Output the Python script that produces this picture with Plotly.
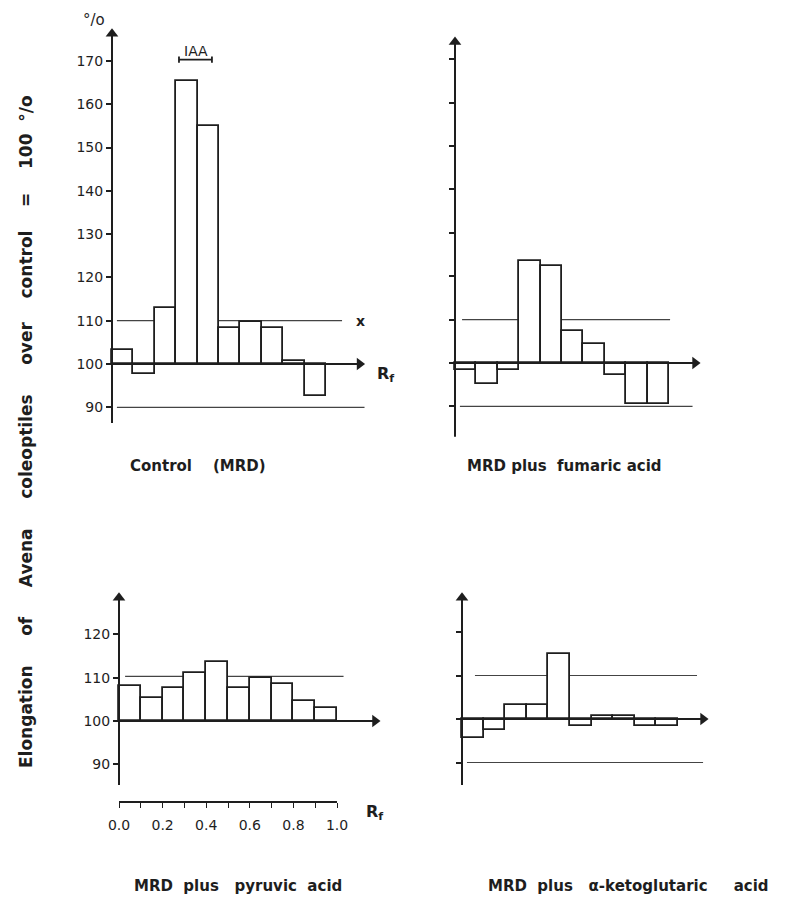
import plotly.graph_objects as go

# window is 798x907; the page body has an 8px margin, so the figure is sized to fit inside it
WIN_W, WIN_H = 798, 907
OFF = 8
W, H = WIN_W - 2 * OFF, WIN_H - 2 * OFF

# ---------------- data ----------------
rf_centers = [0.05, 0.15, 0.25, 0.35, 0.45, 0.55, 0.65, 0.75, 0.85, 0.95]
bin_width = 0.1
control = [103.2, 97.8, 112.9, 165.3, 155.0, 108.2, 109.6, 108.2, 100.6, 92.7]
fumaric = [98.3, 95.2, 98.3, 123.4, 122.4, 107.3, 104.4, 97.3, 90.5, 90.5]
pyruvic = [108.0, 105.4, 107.7, 111.2, 113.7, 107.6, 110.0, 108.5, 104.6, 103.1]
ketoglutaric = [95.6, 97.4, 103.3, 103.3, 115.0, 98.3, 100.8, 100.8, 98.3, 98.3]
baseline = 100
upper_ref = 110
lower_ref = 90
NB = "\u00a0"
titles = [f"Control{NB*4}(MRD)", f"MRD{NB*1}plus{NB*2}fumaric{NB*1}acid",
          f"MRD{NB*2}plus{NB*3}pyruvic{NB*2}acid", f"MRD{NB*2}plus{NB*3}\u03b1-ketoglutaric{NB*5}acid"]
ytitle = (f"Elongation{NB*5}of{NB*5}Avena{NB*5}coleoptiles{NB*5}over{NB*4}"
          f"control{NB*4}={NB*4}100{NB*2}\u00b0/o")
tl_ticks = [90, 100, 110, 120, 130, 140, 150, 160, 170]
bl_ticks = [90, 100, 110, 120]
rf_major = [0.0, 0.2, 0.4, 0.6, 0.8, 1.0]
rf_labels = ["0.0", "0.2", "0.4", "0.6", "0.8", "1.0"]

FONT = "DejaVu Sans"
INK = "#1e1e1e"


def xp(px):
    return (px - OFF) / W


def yp(py):
    return 1 - (py - OFF) / H


# panel pixel calibration (window pixels)
panels = [
    dict(data=control, rf0=112, ppr=214, y100=364, ppu=4.33, dx=(100, 425), dy=(15, 440),
         ytip=177.4, ybot=86.4, xtip=1.18, ticks=tl_ticks, labels=True,
         lines=[(upper_ref, 0.023, 1.075), (lower_ref, 0.023, 1.18)]),
    dict(data=fumaric, rf0=455, ppr=214, y100=363, ppu=4.34, dx=(440, 740), dy=(15, 445),
         ytip=175.1, ybot=83.0, xtip=1.145, ticks=tl_ticks, labels=False,
         lines=[(upper_ref, 0.033, 1.005), (lower_ref, 0.023, 1.11)]),
    dict(data=pyruvic, rf0=119, ppr=218, y100=721, ppu=4.33, dx=(100, 425), dy=(575, 795),
         ytip=129.6, ybot=85.2, xtip=1.197, ticks=bl_ticks, labels=True,
         lines=[(upper_ref + 0.3, 0.028, 1.03)]),
    dict(data=ketoglutaric, rf0=462, ppr=216, y100=719, ppu=4.35, dx=(440, 740), dy=(575, 795),
         ytip=129.0, ybot=84.8, xtip=1.139, ticks=bl_ticks, labels=False,
         lines=[(upper_ref, 0.06, 1.088), (lower_ref, 0.023, 1.116)]),
]

fig = go.Figure()
annotations = []
shapes = []
layout = {}
HEAD = 11  # arrowhead marker size (px)

for i, p in enumerate(panels, start=1):
    xa = "x" if i == 1 else f"x{i}"
    ya = "y" if i == 1 else f"y{i}"
    xr = [(p["dx"][0] - p["rf0"]) / p["ppr"], (p["dx"][1] - p["rf0"]) / p["ppr"]]
    yr = [baseline - (p["dy"][1] - p["y100"]) / p["ppu"], baseline + (p["y100"] - p["dy"][0]) / p["ppu"]]
    layout[f"xaxis{'' if i == 1 else i}"] = dict(
        domain=[xp(p["dx"][0]), xp(p["dx"][1])], range=xr, visible=False, anchor=ya,
        fixedrange=True, automargin=False)
    layout[f"yaxis{'' if i == 1 else i}"] = dict(
        domain=[yp(p["dy"][1]), yp(p["dy"][0])], range=yr, anchor="free",
        position=xp(p["rf0"]), showline=False, showgrid=False, zeroline=False,
        ticks="outside", ticklen=6, tickwidth=1.5, tickcolor=INK,
        tickvals=p["ticks"], showticklabels=p["labels"],
        ticktext=[str(t) for t in p["ticks"]],
        tickfont=dict(family=FONT, size=14, color=INK), fixedrange=True, automargin=False)

    fig.add_trace(go.Bar(
        x=rf_centers, y=[v - baseline for v in p["data"]], base=baseline, width=bin_width,
        marker=dict(color="white", line=dict(color=INK, width=1.8)),
        xaxis=xa, yaxis=ya, showlegend=False, hoverinfo="skip", cliponaxis=False))

    for (lv, x0, x1) in p["lines"]:
        shapes.append(dict(type="line", xref=xa, yref=ya, x0=x0, x1=x1, y0=lv, y1=lv,
                           line=dict(color="#444", width=1.2), layer="below"))
    # axes lines
    hy = (HEAD * 0.45) / p["ppu"]
    hx = (HEAD * 0.45) / p["ppr"]
    shapes.append(dict(type="line", xref=xa, yref=ya, x0=0, x1=0, y0=p["ybot"], y1=p["ytip"] - hy,
                       line=dict(color=INK, width=2)))
    shapes.append(dict(type="line", xref=xa, yref=ya, x0=0, x1=p["xtip"] - hx, y0=baseline, y1=baseline,
                       line=dict(color=INK, width=2)))
    # arrowheads
    fig.add_trace(go.Scatter(x=[0], y=[p["ytip"] - hy], mode="markers", xaxis=xa, yaxis=ya,
                             marker=dict(symbol="triangle-up", size=HEAD, color=INK),
                             showlegend=False, hoverinfo="skip", cliponaxis=False))
    fig.add_trace(go.Scatter(x=[p["xtip"] - hx], y=[baseline], mode="markers", xaxis=xa, yaxis=ya,
                             marker=dict(symbol="triangle-right", size=HEAD, color=INK),
                             showlegend=False, hoverinfo="skip", cliponaxis=False))

# separate Rf scale below the pyruvic panel
layout["xaxis5"] = dict(domain=[xp(119), xp(337)], range=[0, 1], anchor="free", position=yp(802),
                        showline=True, linecolor=INK, linewidth=1.5, showgrid=False, zeroline=False,
                        ticks="outside", ticklen=5, tickwidth=1.3, tickcolor=INK,
                        tickvals=rf_major, ticktext=rf_labels, ticklabelstandoff=5,
                        minor=dict(ticks="outside", dtick=0.1, tick0=0, ticklen=5, tickwidth=1.3,
                                   tickcolor=INK, showgrid=False),
                        tickfont=dict(family=FONT, size=14, color=INK), fixedrange=True, automargin=False)
fig.add_trace(go.Scatter(x=[0, 1], y=[baseline, baseline], mode="markers", marker=dict(opacity=0),
                         xaxis="x5", yaxis="y3", showlegend=False, hoverinfo="skip"))

# IAA bracket
shapes.append(dict(type="line", xref="x", yref="y", x0=0.313, x1=0.467, y0=170.3, y1=170.3,
                   line=dict(color=INK, width=1.8)))
for xv in (0.313, 0.467):
    shapes.append(dict(type="line", xref="x", yref="y", x0=xv, x1=xv, y0=169.6, y1=171.0,
                       line=dict(color=INK, width=1.8)))


def pa(px, py, text, size=14, bold=False, angle=0, xanchor="center", yanchor="middle"):
    t = f"<b>{text}</b>" if bold else text
    annotations.append(dict(xref="paper", yref="paper", x=xp(px), y=yp(py), text=t, showarrow=False,
                            textangle=angle, xanchor=xanchor, yanchor=yanchor,
                            font=dict(family=FONT, size=size, color=INK)))


pa(196, 51, "IAA", size=14)
pa(94, 20, "\u00b0/o", size=15)
pa(360, 321, "x", size=14, bold=True)
pa(375, 374, "R<sub>f</sub>", size=16, bold=True, xanchor="left")
pa(364, 812, "R<sub>f</sub>", size=16, bold=True, xanchor="left")

pa(198, 466, titles[0], size=15, bold=True)
pa(564, 466, titles[1], size=15, bold=True)
pa(238, 886, titles[2], size=15, bold=True)
pa(628, 886, titles[3], size=15, bold=True)

pa(26, 432, ytitle, size=17, bold=True, angle=-90)

fig.update_layout(width=W, height=H, margin=dict(l=0, r=0, t=0, b=0, pad=0, autoexpand=False),
                  paper_bgcolor="white", plot_bgcolor="rgba(0,0,0,0)",
                  annotations=annotations, shapes=shapes, bargap=0, **layout)

fig.write_html("out.html")
